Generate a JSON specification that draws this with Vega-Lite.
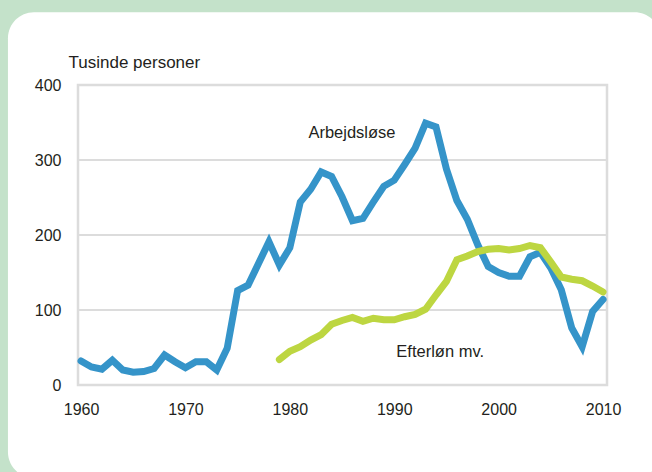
{
  "$schema": "https://vega.github.io/schema/vega-lite/v6.json",
  "width": 529,
  "height": 300,
  "autosize": "none",
  "padding": {"left": 78, "top": 85, "right": 45, "bottom": 87},
  "background": "#c4e2ca",
  "config": {
    "view": {"stroke": null},
    "font": "Liberation Sans",
    "text": {"font": "Liberation Sans"}
  },
  "datasets": {
    "series": [
      {"year": 1960, "series": "Arbejdsløse", "value": 32},
      {"year": 1961, "series": "Arbejdsløse", "value": 24},
      {"year": 1962, "series": "Arbejdsløse", "value": 21},
      {"year": 1963, "series": "Arbejdsløse", "value": 33},
      {"year": 1964, "series": "Arbejdsløse", "value": 20},
      {"year": 1965, "series": "Arbejdsløse", "value": 17},
      {"year": 1966, "series": "Arbejdsløse", "value": 18},
      {"year": 1967, "series": "Arbejdsløse", "value": 22},
      {"year": 1968, "series": "Arbejdsløse", "value": 40},
      {"year": 1969, "series": "Arbejdsløse", "value": 31},
      {"year": 1970, "series": "Arbejdsløse", "value": 23},
      {"year": 1971, "series": "Arbejdsløse", "value": 31},
      {"year": 1972, "series": "Arbejdsløse", "value": 31},
      {"year": 1973, "series": "Arbejdsløse", "value": 20},
      {"year": 1974, "series": "Arbejdsløse", "value": 49},
      {"year": 1975, "series": "Arbejdsløse", "value": 126},
      {"year": 1976, "series": "Arbejdsløse", "value": 133},
      {"year": 1977, "series": "Arbejdsløse", "value": 162},
      {"year": 1978, "series": "Arbejdsløse", "value": 191},
      {"year": 1979, "series": "Arbejdsløse", "value": 160},
      {"year": 1980, "series": "Arbejdsløse", "value": 183},
      {"year": 1981, "series": "Arbejdsløse", "value": 244},
      {"year": 1982, "series": "Arbejdsløse", "value": 261},
      {"year": 1983, "series": "Arbejdsløse", "value": 284},
      {"year": 1984, "series": "Arbejdsløse", "value": 278},
      {"year": 1985, "series": "Arbejdsløse", "value": 251},
      {"year": 1986, "series": "Arbejdsløse", "value": 219},
      {"year": 1987, "series": "Arbejdsløse", "value": 222},
      {"year": 1988, "series": "Arbejdsløse", "value": 244},
      {"year": 1989, "series": "Arbejdsløse", "value": 265},
      {"year": 1990, "series": "Arbejdsløse", "value": 273},
      {"year": 1991, "series": "Arbejdsløse", "value": 294},
      {"year": 1992, "series": "Arbejdsløse", "value": 316},
      {"year": 1993, "series": "Arbejdsløse", "value": 349},
      {"year": 1994, "series": "Arbejdsløse", "value": 344},
      {"year": 1995, "series": "Arbejdsløse", "value": 288},
      {"year": 1996, "series": "Arbejdsløse", "value": 246},
      {"year": 1997, "series": "Arbejdsløse", "value": 221},
      {"year": 1998, "series": "Arbejdsløse", "value": 187},
      {"year": 1999, "series": "Arbejdsløse", "value": 158},
      {"year": 2000, "series": "Arbejdsløse", "value": 150},
      {"year": 2001, "series": "Arbejdsløse", "value": 145},
      {"year": 2002, "series": "Arbejdsløse", "value": 145},
      {"year": 2003, "series": "Arbejdsløse", "value": 171},
      {"year": 2004, "series": "Arbejdsløse", "value": 177},
      {"year": 2005, "series": "Arbejdsløse", "value": 156},
      {"year": 2006, "series": "Arbejdsløse", "value": 127},
      {"year": 2007, "series": "Arbejdsløse", "value": 76},
      {"year": 2008, "series": "Arbejdsløse", "value": 51},
      {"year": 2009, "series": "Arbejdsløse", "value": 98},
      {"year": 2010, "series": "Arbejdsløse", "value": 114},
      {"year": 1979, "series": "Efterløn mv.", "value": 34},
      {"year": 1980, "series": "Efterløn mv.", "value": 45},
      {"year": 1981, "series": "Efterløn mv.", "value": 51},
      {"year": 1982, "series": "Efterløn mv.", "value": 60},
      {"year": 1983, "series": "Efterløn mv.", "value": 67},
      {"year": 1984, "series": "Efterløn mv.", "value": 81},
      {"year": 1985, "series": "Efterløn mv.", "value": 86},
      {"year": 1986, "series": "Efterløn mv.", "value": 90},
      {"year": 1987, "series": "Efterløn mv.", "value": 85},
      {"year": 1988, "series": "Efterløn mv.", "value": 89},
      {"year": 1989, "series": "Efterløn mv.", "value": 87},
      {"year": 1990, "series": "Efterløn mv.", "value": 87},
      {"year": 1991, "series": "Efterløn mv.", "value": 91},
      {"year": 1992, "series": "Efterløn mv.", "value": 94},
      {"year": 1993, "series": "Efterløn mv.", "value": 101},
      {"year": 1994, "series": "Efterløn mv.", "value": 120},
      {"year": 1995, "series": "Efterløn mv.", "value": 138},
      {"year": 1996, "series": "Efterløn mv.", "value": 167},
      {"year": 1997, "series": "Efterløn mv.", "value": 172},
      {"year": 1998, "series": "Efterløn mv.", "value": 178},
      {"year": 1999, "series": "Efterløn mv.", "value": 181},
      {"year": 2000, "series": "Efterløn mv.", "value": 182},
      {"year": 2001, "series": "Efterløn mv.", "value": 180},
      {"year": 2002, "series": "Efterløn mv.", "value": 182},
      {"year": 2003, "series": "Efterløn mv.", "value": 186},
      {"year": 2004, "series": "Efterløn mv.", "value": 183},
      {"year": 2005, "series": "Efterløn mv.", "value": 164},
      {"year": 2006, "series": "Efterløn mv.", "value": 144},
      {"year": 2007, "series": "Efterløn mv.", "value": 141},
      {"year": 2008, "series": "Efterløn mv.", "value": 139},
      {"year": 2009, "series": "Efterløn mv.", "value": 132},
      {"year": 2010, "series": "Efterløn mv.", "value": 124}
    ],
    "grid": [{"level": 100}, {"level": 200}, {"level": 300}]
  },
  "layer": [
    {
      "data": {"values": [{}]},
      "mark": {"type": "rect", "fill": "white", "cornerRadius": 26, "clip": false},
      "encoding": {
        "x": {"datum": 1953.0, "type": "quantitative", "scale": {"domain": [1959.71, 2010.38]}},
        "x2": {"datum": 2015.5},
        "y": {"datum": 497, "type": "quantitative", "scale": {"domain": [0, 400]}},
        "y2": {"datum": -124}
      }
    },
    {
      "data": {"name": "grid"},
      "mark": {"type": "rule", "color": "#dcdcdc", "strokeWidth": 2},
      "encoding": {
        "y": {"field": "level", "type": "quantitative"}
      }
    },
    {
      "data": {"values": [{}]},
      "mark": {"type": "rect", "fill": null, "stroke": "#dcdcdc", "strokeWidth": 2.5},
      "encoding": {
        "x": {"datum": 1959.71, "type": "quantitative"},
        "x2": {"datum": 2010.38},
        "y": {"datum": 0, "type": "quantitative"},
        "y2": {"datum": 400}
      }
    },
    {
      "data": {"name": "series"},
      "mark": {"type": "line", "strokeWidth": 7, "strokeCap": "round", "strokeJoin": "miter"},
      "encoding": {
        "x": {
          "field": "year", "type": "quantitative",
          "scale": {"domain": [1959.71, 2010.38], "nice": false, "zero": false},
          "axis": {
            "values": [1960, 1970, 1980, 1990, 2000, 2010],
            "format": "d", "title": null, "grid": false, "domain": false,
            "ticks": false, "tickSize": 0, "labelPadding": 16, "zindex": 1,
            "labelFont": "Liberation Sans", "labelFontSize": 16,
            "labelColor": "#231f20", "labelFlush": false, "labelBaseline": "top"
          }
        },
        "y": {
          "field": "value", "type": "quantitative",
          "scale": {"domain": [0, 400], "nice": false},
          "axis": {
            "values": [0, 100, 200, 300, 400],
            "title": "Tusinde personer", "grid": false, "domain": false,
            "ticks": false, "tickSize": 0, "labelPadding": 17, "zindex": 1,
            "labelFont": "Liberation Sans", "labelFontSize": 16,
            "labelColor": "#231f20", "labelFlush": false,
            "titleFont": "Liberation Sans", "titleFontSize": 17,
            "titleFontWeight": "normal", "titleColor": "#231f20",
            "titleAngle": 0, "titleAlign": "left", "titleBaseline": "alphabetic",
            "titleX": -10, "titleY": -18
          }
        },
        "color": {
          "field": "series", "type": "nominal",
          "scale": {"domain": ["Arbejdsløse", "Efterløn mv."], "range": ["#3594c9", "#bdd641"]},
          "legend": null
        },
        "order": {"field": "year"}
      }
    },
    {
      "data": {"values": [{}]},
      "mark": {"type": "text", "text": "Arbejdsløse", "align": "center", "baseline": "alphabetic", "fontSize": 16.5, "color": "#231f20"},
      "encoding": {
        "x": {"datum": 1985.95, "type": "quantitative"},
        "y": {"datum": 329, "type": "quantitative"}
      }
    },
    {
      "data": {"values": [{}]},
      "mark": {"type": "text", "text": "Efterløn mv.", "align": "center", "baseline": "alphabetic", "fontSize": 16.5, "color": "#231f20"},
      "encoding": {
        "x": {"datum": 1994.4, "type": "quantitative"},
        "y": {"datum": 37, "type": "quantitative"}
      }
    }
  ]
}
